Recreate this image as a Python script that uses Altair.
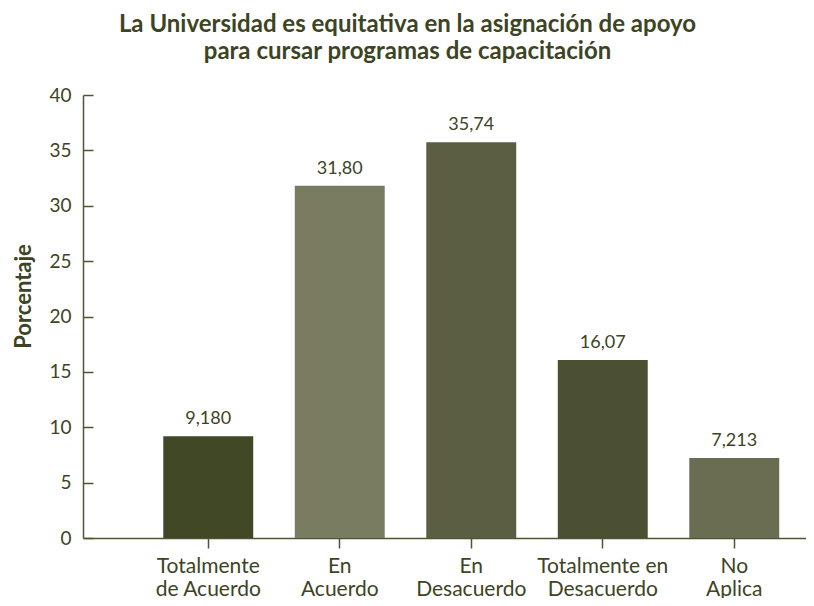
import altair as alt
import pandas as pd

categorias = ["Totalmente\nde Acuerdo", "En\nAcuerdo", "En\nDesacuerdo", "Totalmente en\nDesacuerdo", "No\nAplica"]
valores = [9.180, 31.80, 35.74, 16.07, 7.213]
etiquetas = ["9,180", "31,80", "35,74", "16,07", "7,213"]
colores = ["#414826", "#7a7c62", "#5b5e43", "#4b5033", "#6b6d53"]
y_ticks = [0, 5, 10, 15, 20, 25, 30, 35, 40]

df = pd.DataFrame({"categoria": categorias, "valor": valores, "etiqueta": etiquetas})

FONT = "Lato"
TXT = "#3d4423"
LINE = "#4f5433"
W, H = 723, 443

xscale = alt.Scale(paddingInner=0.316, paddingOuter=0.407, align=0.75)

xaxis = alt.Axis(
    labelExpr="split(datum.label, '\\n')",
    labelAngle=0,
    labelFont=FONT,
    labelFontSize=21,
    labelColor=TXT,
    labelLineHeight=23,
    labelPadding=7,
    labelBaseline="top",
    tickSize=10,
    tickColor=LINE,
    domainColor=LINE,
    domainWidth=1.5,
    tickWidth=1.5,
    grid=False,
)

yscale = alt.Scale(domain=[0, 40], nice=False)

bars = alt.Chart(df).mark_bar().encode(
    x=alt.X("categoria:N", sort=categorias, title=None, scale=xscale, axis=xaxis),
    y=alt.Y(
        "valor:Q",
        scale=yscale,
        title="Porcentaje",
        axis=alt.Axis(
            values=y_ticks,
            ticks=False,
            tickSize=0,
            grid=False,
            labelFont=FONT,
            labelFontSize=19,
            labelColor=TXT,
            labelPadding=12,
            domainColor=LINE,
            domainWidth=1.5,
            titleFont=FONT,
            titleFontSize=22,
            titleFontWeight="bold",
            titleColor=TXT,
            titleX=-60,
            titleY=201,
            titleBaseline="middle",
            titleAngle=-90,
        ),
    ),
    color=alt.Color("categoria:N", sort=categorias, scale=alt.Scale(domain=categorias, range=colores), legend=None),
)

text = alt.Chart(df).mark_text(
    dy=-8, baseline="bottom", font=FONT, fontSize=18, color=TXT
).encode(
    x=alt.X("categoria:N", sort=categorias, title=None, scale=xscale, axis=xaxis),
    y=alt.Y(
        "valor:Q",
        scale=yscale,
        axis=alt.Axis(
            orient="right",
            offset=-W,
            values=y_ticks,
            labels=False,
            domain=False,
            grid=False,
            ticks=True,
            tickSize=10,
            tickColor=LINE,
            tickWidth=1.5,
            title=None,
        ),
    ),
    text="etiqueta:N",
)

chart = (
    alt.layer(bars, text, view=alt.ViewBackground(stroke="transparent", strokeWidth=0))
    .resolve_axis(y="independent")
    .properties(
        width=W,
        height=H,
        padding={"left": 75, "top": 87, "right": 0, "bottom": 60},
        autosize=alt.AutoSizeParams(type="none"),
        title=alt.TitleParams(
            text=["La Universidad es equitativa en la asignación de apoyo", "para cursar programas de capacitación"],
            font=FONT,
            fontSize=24,
            fontWeight="bold",
            color=TXT,
            lineHeight=27,
            anchor="middle",
            frame="group",
            dx=-37,
            offset=22,
        ),
    )
    .configure_view(strokeWidth=0, stroke="transparent")
    .configure_axis(grid=False)
    .configure(background="white")
)

chart.save("out.html", embed_options={"renderer": "svg", "actions": False})
